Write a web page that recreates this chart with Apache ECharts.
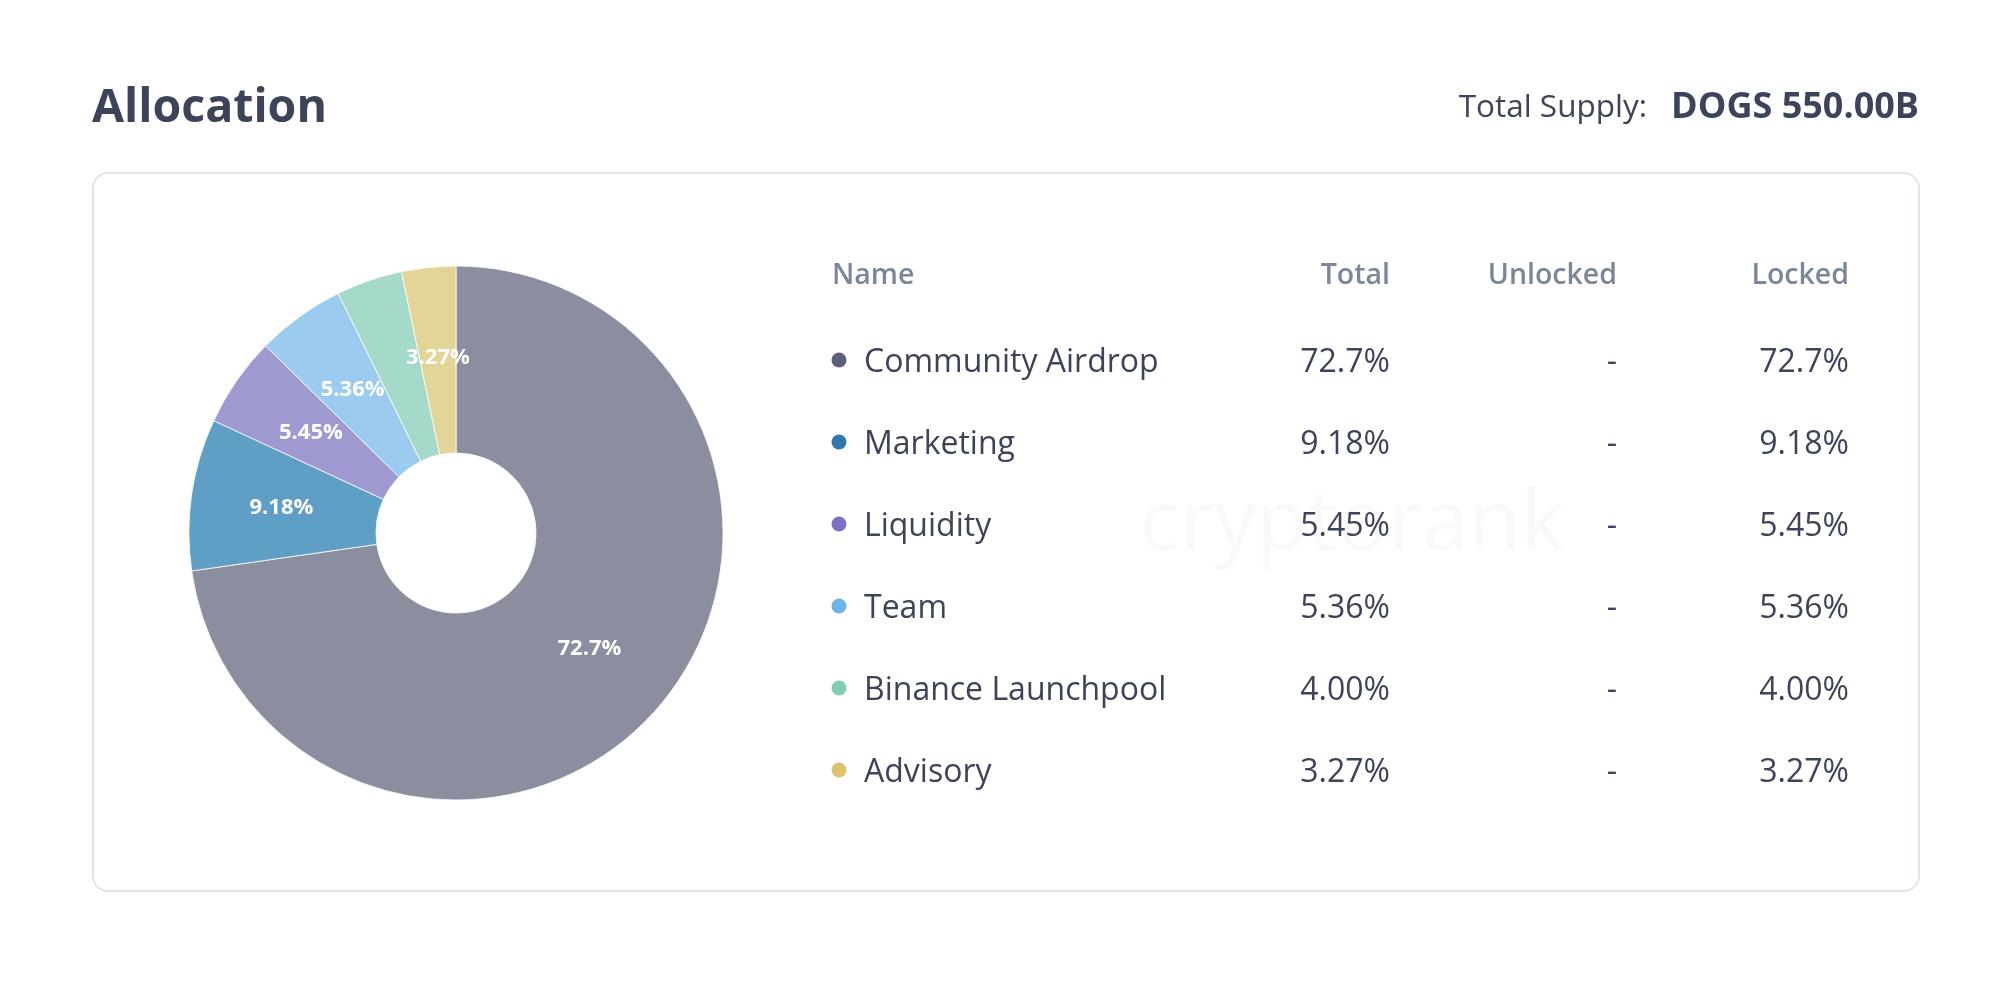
<!DOCTYPE html>
<html>
<head>
<meta charset="utf-8">
<script src="https://cdn.jsdelivr.net/npm/echarts@6/dist/echarts.min.js"></script>
<style>
html,body{margin:0;padding:0;background:#fff;}
#chart{width:1990px;height:990px;}
</style>
</head>
<body>
<div id="chart"></div>
<script>
const names = ['Community Airdrop', 'Marketing', 'Liquidity', 'Team', 'Binance Launchpool', 'Advisory'];
const totals = [72.7, 9.18, 5.45, 5.36, 4.00, 3.27];
const totalLabels = ['72.7%', '9.18%', '5.45%', '5.36%', '4.00%', '3.27%'];
const unlockedLabels = ['-', '-', '-', '-', '-', '-'];
const lockedLabels = ['72.7%', '9.18%', '5.45%', '5.36%', '4.00%', '3.27%'];
const headers = ['Name', 'Total', 'Unlocked', 'Locked'];
const sliceLabelShown = [true, true, true, true, false, true];
const sliceColors = ['#8a8e9f', '#5f9fc6', '#9e99d1', '#9bcbee', '#a5d9ca', '#e3d498'];
const dotColors = ['#5c6179', '#2e77b1', '#7e70c6', '#6bb5e9', '#7ecfb3', '#dbc46d'];

const FONT = '"Open Sans", "Noto Sans", sans-serif';
const chart = echarts.init(document.getElementById('chart'), null, {renderer: 'canvas'});

const graphics = [];
graphics.push({
  type: 'rect', z: 0,
  shape: {x: 93, y: 173, width: 1826, height: 718, r: 15},
  style: {fill: '#ffffff', stroke: '#e1e4ec', lineWidth: 2}
});
graphics.push({
  type: 'text', z: 1, x: 1352, y: 526,
  style: {text: 'cryptorank', fill: '#f8f9fb', font: '400 84px ' + FONT, textAlign: 'center', textVerticalAlign: 'middle'}
});
graphics.push({
  type: 'text', z: 5, x: 92, y: 109,
  style: {text: 'Allocation', fill: '#3d4459', font: '700 46.5px ' + FONT, textAlign: 'left', textVerticalAlign: 'middle'}
});
graphics.push({
  type: 'text', z: 5, x: 1647, y: 108,
  style: {text: 'Total Supply:', fill: '#3d4459', font: '400 31.5px ' + FONT, textAlign: 'right', textVerticalAlign: 'middle'}
});
graphics.push({
  type: 'text', z: 5, x: 1919, y: 108,
  style: {text: 'DOGS 550.00B', fill: '#3d4459', font: '700 36px ' + FONT, textAlign: 'right', textVerticalAlign: 'middle'}
});
const headerX = [832, 1390, 1617, 1849];
const headerAlign = ['left', 'right', 'right', 'right'];
headers.forEach((h, i) => {
  graphics.push({
    type: 'text', z: 5, x: headerX[i], y: 275.5,
    style: {text: h, fill: '#7b8799', font: '600 28.5px ' + FONT, textAlign: headerAlign[i], textVerticalAlign: 'middle'}
  });
});
const rowY0 = 360, rowStep = 82;
names.forEach((n, i) => {
  const y = rowY0 + i * rowStep;
  graphics.push({type: 'circle', z: 5, shape: {cx: 839, cy: y, r: 7.5}, style: {fill: dotColors[i]}});
  const ty = y + 3;
  graphics.push({type: 'text', z: 5, x: 864, y: ty,
    style: {text: n, fill: '#3d4459', font: '400 32px ' + FONT, textAlign: 'left', textVerticalAlign: 'middle'}});
  graphics.push({type: 'text', z: 5, x: 1390, y: ty,
    style: {text: totalLabels[i], fill: '#3d4459', font: '400 32px ' + FONT, textAlign: 'right', textVerticalAlign: 'middle'}});
  graphics.push({type: 'text', z: 5, x: 1617, y: ty,
    style: {text: unlockedLabels[i], fill: '#3d4459', font: '400 32px ' + FONT, textAlign: 'right', textVerticalAlign: 'middle'}});
  graphics.push({type: 'text', z: 5, x: 1849, y: ty,
    style: {text: lockedLabels[i], fill: '#3d4459', font: '400 32px ' + FONT, textAlign: 'right', textVerticalAlign: 'middle'}});
});

chart.setOption({
  animation: false,
  backgroundColor: '#ffffff',
  graphic: {elements: graphics},
  series: [{
    type: 'pie',
    z: 10,
    center: [456, 533],
    radius: [80, 267],
    startAngle: 90,
    clockwise: true,
    avoidLabelOverlap: false,
    labelLayout: {hideOverlap: false},
    silent: true,
    itemStyle: {borderColor: '#ffffff', borderWidth: 0.8},
    label: {
      show: true,
      position: 'inside',
      color: '#ffffff',
      fontFamily: FONT,
      fontWeight: 700,
      fontSize: 22,
      formatter: p => totalLabels[p.dataIndex]
    },
    labelLine: {show: false},
    emphasis: {disabled: true},
    data: names.map((n, i) => ({
      name: n, value: totals[i],
      itemStyle: {color: sliceColors[i]},
      label: {show: sliceLabelShown[i]}
    }))
  }]
});
</script>
</body>
</html>
